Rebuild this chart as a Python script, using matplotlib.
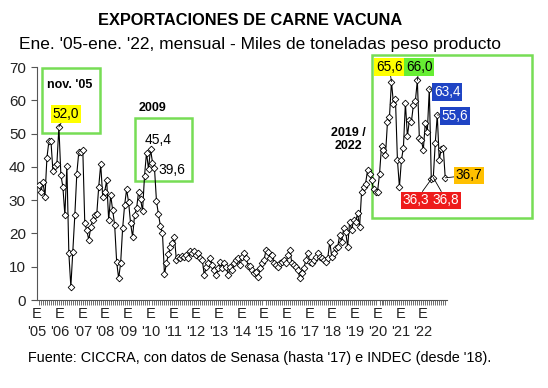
import numpy as np
import matplotlib
matplotlib.use("Agg")
import matplotlib.pyplot as plt
from matplotlib.patches import Rectangle

plt.rcParams["font.family"] = ["Liberation Sans", "DejaVu Sans"]

# monthly exports, thousand tonnes product weight (Jan '05 - Jan '22)
exp_2005 = [34.5, 32.5, 35.5, 31.0, 42.8, 47.8, 47.8, 38.8, 40.3, 41.0, 52.0, 37.5]
exp_2006 = [34.0, 25.5, 40.3, 14.0, 4.0, 14.5, 25.5, 38.0, 44.5, 44.5, 45.2, 23.0]
exp_2007 = [21.0, 18.0, 22.0, 24.0, 25.5, 25.7, 34.0, 40.8, 31.0, 32.5, 36.0, 24.0]
exp_2008 = [31.5, 27.0, 22.5, 11.5, 6.5, 11.0, 21.5, 28.5, 33.2, 29.4, 23.0, 19.0]
exp_2009 = [25.5, 27.5, 32.4, 30.4, 26.7, 37.3, 44.3, 39.3, 45.4, 41.3, 39.6, 29.7]
exp_2010 = [25.7, 22.2, 20.1, 7.8, 11.0, 13.8, 15.8, 17.2, 19.0, 12.0, 13.0, 12.5]
exp_2011 = [13.2, 13.0, 13.5, 12.7, 14.8, 14.2, 14.8, 13.5, 14.2, 12.7, 12.0, 7.5]
exp_2012 = [10.0, 11.0, 12.5, 10.5, 9.0, 7.5, 9.5, 11.5, 9.5, 11.0, 10.0, 7.5]
exp_2013 = [10.0, 9.0, 11.0, 12.0, 12.6, 10.5, 13.0, 14.2, 12.7, 10.3, 10.3, 9.0]
exp_2014 = [8.0, 8.5, 7.0, 9.5, 11.0, 12.0, 15.0, 14.5, 12.5, 13.5, 11.0, 10.5]
exp_2015 = [10.0, 11.2, 11.5, 12.0, 11.0, 13.5, 15.0, 11.0, 10.5, 10.0, 9.0, 6.5]
exp_2016 = [8.2, 9.5, 12.0, 14.0, 11.5, 11.0, 12.0, 13.0, 14.0, 13.0, 12.5, 12.0]
exp_2017 = [11.5, 12.5, 17.5, 13.0, 14.0, 15.5, 16.0, 19.5, 17.5, 21.5, 20.5, 16.0]
exp_2018 = [23.5, 21.0, 24.0, 23.5, 26.0, 22.0, 32.5, 34.0, 35.0, 39.0, 38.0, 36.0]
exp_2019 = [33.2, 32.3, 32.5, 37.8, 46.2, 45.0, 43.5, 53.5, 55.0, 65.6, 59.0, 60.5]
exp_2020 = [42.0, 34.0, 42.0, 45.8, 59.2, 49.2, 54.0, 53.5, 58.5, 59.8, 66.0, 48.7]
exp_2021 = [48.0, 45.2, 53.2, 50.5, 63.4, 36.3, 36.8, 47.2, 55.6, 42.0, 45.5, 45.8]
exp_2022 = [36.7]

years = ["'05", "'06", "'07", "'08", "'09", "'10", "'11", "'12", "'13", "'14",
         "'15", "'16", "'17", "'18", "'19", "'20", "'21", "'22"]

values = np.array(exp_2005 + exp_2006 + exp_2007 + exp_2008 + exp_2009 + exp_2010
                  + exp_2011 + exp_2012 + exp_2013 + exp_2014 + exp_2015 + exp_2016
                  + exp_2017 + exp_2018 + exp_2019 + exp_2020 + exp_2021 + exp_2022)
x = np.arange(len(values))

fig = plt.figure(figsize=(5.48, 3.88), dpi=100)
ax = fig.add_axes([0.0675, 0.2268, 0.7486, 0.6005])
ax.plot(x, values, color="black", lw=0.8, marker="D", ms=3.4,
        mfc="white", mec="black", mew=0.6, zorder=3)
ax.set_xlim(-1, 205); ax.set_ylim(0, 70)

for s in ("top", "right"):
    ax.spines[s].set_visible(False)
for s in ("left", "bottom"):
    ax.spines[s].set_color("#555555"); ax.spines[s].set_linewidth(0.8)

ax.set_yticks(range(0, 71, 10))
ax.tick_params(axis="y", length=4, width=0.8, color="#555555", labelsize=11,
               pad=4, labelcolor="#222222")
ax.set_xticks(-1 + 11.4 * np.arange(len(years)))
ax.set_xticklabels(["E\n" + y for y in years], linespacing=1.4)
ax.set_xticks(x, minor=True)
ax.tick_params(axis="x", which="major", length=0, labelsize=10.5, pad=5, labelcolor="#222222")
ax.tick_params(axis="x", which="minor", length=3.5, width=0.6, color="#555555")

green = "#77dd55"
for (x0, y0, w, h) in [(1.5, 50.2, 29.2, 19.5), (48.2, 35.7, 28.7, 19.0),
                       (167.3, 24.6, 80.4, 49.0)]:
    ax.add_patch(Rectangle((x0, y0), w, h, fill=False, ec=green, lw=1.8, clip_on=False))

ax.text(15.6, 64.5, "nov. '05", ha="center", va="center", fontsize=9, fontweight="bold")
ax.text(56.8, 57.7, "2009", ha="center", va="center", fontsize=9, fontweight="bold")
ax.text(155.3, 48.3, "2019 /\n2022", ha="center", va="center", fontsize=9,
        fontweight="bold", linespacing=1.1)
ax.text(59.8, 48.0, "45,4", ha="center", va="center", fontsize=10)
ax.text(66.8, 39.0, "39,6", ha="center", va="center", fontsize=10)

def tag(i, tx, ty, bg, fg="black"):
    ax.annotate(f"{values[i]:.1f}".replace(".", ","), xy=(x[i], values[i]), xytext=(tx, ty),
                ha="center", va="center", fontsize=9.8, color=fg, annotation_clip=False,
                bbox=dict(boxstyle="square,pad=0.12", fc=bg, ec="none"),
                arrowprops=dict(arrowstyle="-", lw=0.6, color="black", shrinkA=0, shrinkB=0))

tag(10, 13.6, 55.9, "#ffff00")
tag(177, 175.9, 70.0, "#ffff00")
tag(190, 190.9, 70.0, "#66ee33")
tag(196, 205.0, 62.5, "#1f44c4", "white")
tag(200, 209.0, 55.3, "#1f44c4", "white")
tag(204, 216.0, 37.5, "#ffc000")
tag(197, 189.4, 30.0, "#ee1c1c", "white")
tag(198, 204.5, 30.0, "#ee1c1c", "white")

fig.text(0.456, 0.946, "EXPORTACIONES DE CARNE VACUNA", ha="center", va="center",
         fontsize=11.8, fontweight="bold")
fig.text(0.474, 0.885, "Ene. '05-ene. '22, mensual - Miles de toneladas peso producto",
         ha="center", va="center", fontsize=12.5)
fig.text(28 / 548, 1 - 358 / 388, "Fuente: CICCRA, con datos de Senasa (hasta '17) e INDEC (desde '18).",
         ha="left", va="center", fontsize=10.4)

fig.savefig("out.png", dpi=100)
